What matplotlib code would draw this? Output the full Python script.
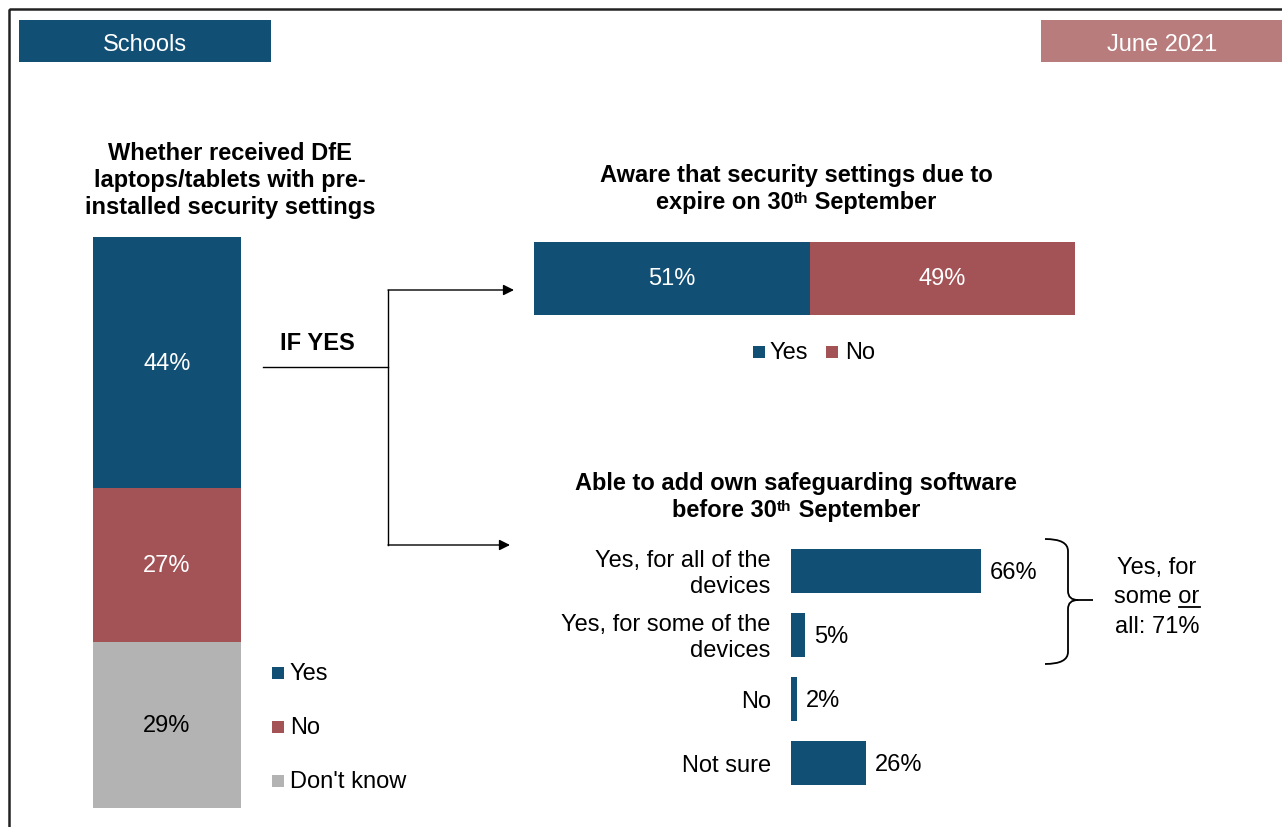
import numpy as np
import matplotlib.pyplot as plt
from matplotlib.patches import Rectangle, PathPatch
from matplotlib.path import Path

plt.rcParams['font.family'] = ['Liberation Sans', 'DejaVu Sans']
plt.rcParams['font.size'] = 17

BLUE = '#124f75'
RED = '#a35256'
GREY = '#b3b3b3'
ROSE = '#b87c7d'

received_labels = ['Yes', 'No', "Don't know"]
received_values = [44, 27, 29]
received_colors = [BLUE, RED, GREY]

aware_labels = ['Yes', 'No']
aware_values = [51, 49]

able_labels = ['Yes, for all of the\ndevices', 'Yes, for some of the\ndevices', 'No', 'Not sure']
able_values = [66, 5, 2, 26]
combined_yes = 71

W, H = 1282, 828
fig = plt.figure(figsize=(W / 100, H / 100), dpi=100)
renderer = fig.canvas.get_renderer()


def px_axes(x0, y0, x1, y1):
    # axes placed in pixel units, measured from the top-left corner
    ax = fig.add_axes([x0 / W, 1 - y1 / H, (x1 - x0) / W, (y1 - y0) / H])
    ax.axis('off')
    return ax


canvas = px_axes(0, 0, W, H)
canvas.set_xlim(0, W)
canvas.set_ylim(H, 0)


def text_width(s, **kw):
    t = canvas.text(0, 0, s, **kw)
    w = t.get_window_extent(renderer).width
    t.remove()
    return w


def rich_line(x, y, pieces, **kw):
    # pieces: (text, fontsize, rise) placed left to right, centred on x
    widths = [text_width(s, fontsize=fs, **kw) for s, fs, _ in pieces]
    cur = x - sum(widths) / 2
    for (s, fs, rise), w in zip(pieces, widths):
        canvas.text(cur, y - rise, s, fontsize=fs, ha='left', va='baseline', **kw)
        cur += w


# outer frame and header tags
canvas.add_patch(Rectangle((9, 10), 1400, 1000, fill=False, lw=1.8, ec='#222222', clip_on=False))
canvas.add_patch(Rectangle((19, 21), 252, 42, fc=BLUE, ec='none'))
canvas.text(145, 51, 'Schools', color='white', ha='center', va='baseline')
canvas.add_patch(Rectangle((1041, 21), 260, 42, fc=ROSE, ec='none', clip_on=False))
canvas.text(1162, 51, 'June 2021', color='white', ha='center', va='baseline')

# chart titles
for y, line in zip([160, 187, 214], ['Whether received DfE', 'laptops/tablets with pre-',
                                     'installed security settings']):
    canvas.text(230, y, line, ha='center', va='baseline', fontweight='bold')

canvas.text(796, 182, 'Aware that security settings due to', ha='center', va='baseline', fontweight='bold')
rich_line(796, 209, [('expire on 30', 17, 0), ('th', 11, 6), (' September', 17, 0)], fontweight='bold')
canvas.text(796, 490, 'Able to add own safeguarding software', ha='center', va='baseline', fontweight='bold')
rich_line(796, 517, [('before 30', 17, 0), ('th', 11, 6), (' September', 17, 0)], fontweight='bold')

# left stacked column
ax1 = px_axes(93, 238, 241, 809)
ax1.set_xlim(-0.5, 0.5)
ax1.set_ylim(100, 0)
bottom = 0
for lab, val, col in zip(received_labels, received_values, received_colors):
    ax1.bar(0, val, bottom=bottom, width=1, color=col)
    ax1.text(0, bottom + val / 2, f'{val}%', ha='center', va='center',
             color='black' if col == GREY else 'white')
    bottom += val

for i, (lab, col) in enumerate(zip(received_labels, received_colors)):
    y = 674 + 54 * i
    canvas.add_patch(Rectangle((272, y - 6), 12, 12, fc=col, ec='none'))
    canvas.text(290, y, lab, ha='left', va='center')

# branch connector
canvas.text(317, 344, 'IF YES', ha='center', va='center', fontweight='bold')
canvas.plot([263, 388], [368, 368], color='black', lw=1)
canvas.plot([388, 388], [291, 546], color='black', lw=1)
canvas.annotate('', xy=(514, 291), xytext=(388, 291),
                arrowprops=dict(arrowstyle='-|>', color='black', lw=1, mutation_scale=16, shrinkA=0, shrinkB=0))
canvas.annotate('', xy=(510, 546), xytext=(388, 546),
                arrowprops=dict(arrowstyle='-|>', color='black', lw=1, mutation_scale=16, shrinkA=0, shrinkB=0))

# awareness split bar
ax2 = px_axes(534, 243, 1075, 316)
ax2.set_xlim(0, 100)
ax2.set_ylim(-0.5, 0.5)
left = 0
for lab, val, col in zip(aware_labels, aware_values, [BLUE, RED]):
    ax2.barh(0, val, left=left, height=1, color=col)
    ax2.text(left + val / 2, 0, f'{val}%', ha='center', va='center', color='white')
    left += val

canvas.add_patch(Rectangle((753, 347), 12, 12, fc=BLUE, ec='none'))
canvas.text(770, 353, 'Yes', ha='left', va='center')
canvas.add_patch(Rectangle((826, 347), 12, 12, fc=RED, ec='none'))
canvas.text(845, 353, 'No', ha='left', va='center')

# safeguarding software bars
ax3 = px_axes(791, 540, 1079, 796)
ax3.set_xlim(0, 100)
ax3.set_ylim(3.5, -0.5)
rows = np.arange(len(able_values))
ax3.barh(rows, able_values, height=0.69, color=BLUE)
for r, lab, val in zip(rows, able_labels, able_values):
    ax3.annotate(lab, xy=(0, r), xytext=(-14.5, -1.2), textcoords='offset points',
                 ha='right', va='center', linespacing=1.24, annotation_clip=False)
    ax3.annotate(f'{val}%', xy=(val, r), xytext=(6.5, -1), textcoords='offset points',
                 ha='left', va='center', annotation_clip=False)

# brace grouping the two "Yes" rows
verts = [(1045, 540), (1068, 540), (1068, 552), (1068, 592), (1068, 601), (1078, 601), (1093, 601),
         (1078, 601), (1068, 601), (1068, 610), (1068, 653), (1068, 665), (1045, 665)]
codes = [Path.MOVETO, Path.CURVE3, Path.CURVE3, Path.LINETO, Path.CURVE3, Path.CURVE3, Path.LINETO,
         Path.MOVETO, Path.CURVE3, Path.CURVE3, Path.LINETO, Path.CURVE3, Path.CURVE3]
canvas.add_patch(PathPatch(Path(verts, codes), fill=False, lw=1.3, ec='black'))

canvas.text(1157, 568, 'Yes, for', ha='center', va='center')
mid = canvas.text(1157, 597, 'some or', ha='center', va='center')
canvas.text(1157, 627, f'all: {combined_yes}%', ha='center', va='center')

# underline the word "or"
w_or = text_width('or')
bb = mid.get_window_extent(renderer)
inv = canvas.transData.inverted()
x_end = inv.transform((bb.x1, bb.y0))[0]
x_start = inv.transform((bb.x1 - w_or, bb.y0))[0]
canvas.plot([x_start, x_end], [608, 608], color='black', lw=1.3)

fig.savefig('out.png', dpi=100)
